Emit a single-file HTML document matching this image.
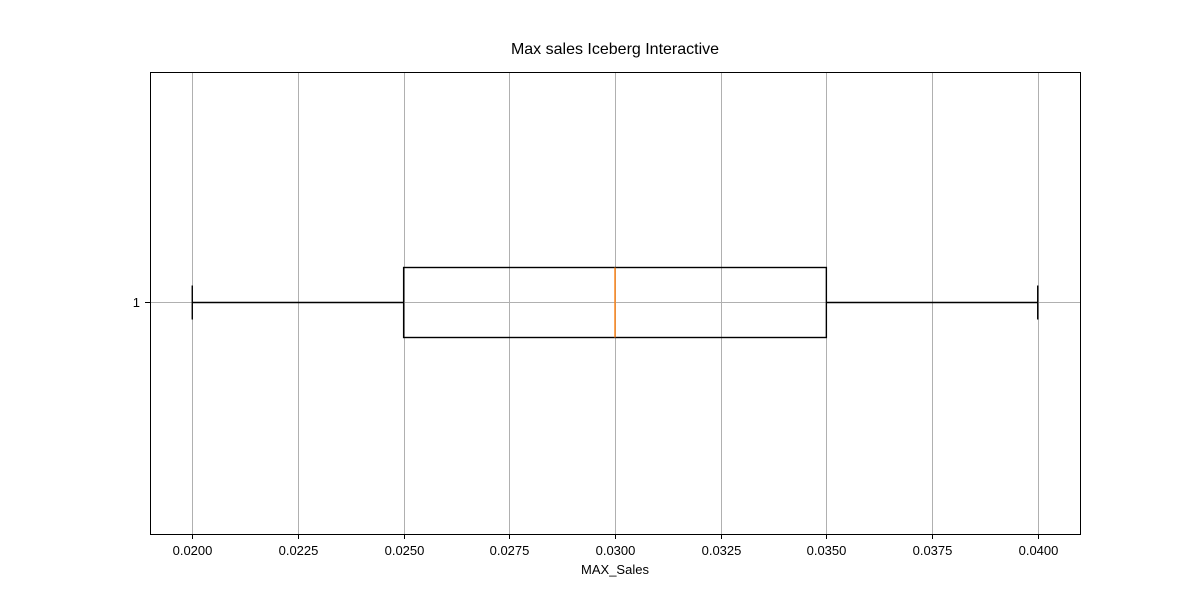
<!DOCTYPE html>
<html><head><meta charset="utf-8"><style>
body{margin:0;background:#fff;}
svg text{font-family:"Liberation Sans","DejaVu Sans",sans-serif;}
</style></head><body>
<svg id="chart" width="1200" height="600" viewBox="0 0 1200 600" xmlns="http://www.w3.org/2000/svg">
<rect width="1200" height="600" fill="#fff"/>
<text x="615" y="54" text-anchor="middle" font-size="16" fill="#000">Max sales Iceberg Interactive</text>
<g id="grid"></g>
<g id="box"></g>
<rect x="150.5" y="72.5" width="930" height="462" fill="none" stroke="#000" stroke-width="1"/>
<g id="xticks"></g>
<text x="615" y="574" text-anchor="middle" font-size="13" fill="#000">MAX_Sales</text>
<line x1="145" y1="302.5" x2="150" y2="302.5" stroke="#000"/>
<text x="140" y="307" text-anchor="end" font-size="13" fill="#000">1</text>
</svg>
<script>
const tickValues=[0.02,0.0225,0.025,0.0275,0.03,0.0325,0.035,0.0375,0.04];
const tickLabels=["0.0200","0.0225","0.0250","0.0275","0.0300","0.0325","0.0350","0.0375","0.0400"];
const whiskerLow=[0.02];
const quartile1=[0.025];
const medianVal=[0.03];
const quartile3=[0.035];
const whiskerHigh=[0.04];
const NS="http://www.w3.org/2000/svg";
const x=v=>150+(v-0.019)/(0.022)*930;
function mk(tag,attrs,parent){const e=document.createElementNS(NS,tag);for(const k in attrs)e.setAttribute(k,attrs[k]);parent.appendChild(e);return e;}
const grid=document.getElementById('grid'),xt=document.getElementById('xticks'),box=document.getElementById('box');
tickValues.forEach((v,i)=>{
 const p=Math.round(x(v))+0.5;
 const g=mk('line',{x1:p,x2:p,y1:72,y2:534,stroke:'#b0b0b0','stroke-width':1},grid);
 
 
 const t=mk('line',{x1:p,x2:p,y1:534,y2:539,stroke:'#000'},xt);
 
 
 const l=mk('text',{x:p,y:555,'text-anchor':'middle','font-size':13,fill:'#000'},xt);
 l.textContent=tickLabels[i];
 
 
});
const hg=mk('line',{x1:150,x2:1080,y1:302.5,y2:302.5,stroke:'#b0b0b0'},grid);


const yc=302.5,bh=35,ch=17,sw=1.4;
const w1=mk('line',{x1:x(whiskerLow[0]),x2:x(quartile1[0]),y1:yc,y2:yc,stroke:'#000','stroke-width':sw},box);


const w2=mk('line',{x1:x(quartile3[0]),x2:x(whiskerHigh[0]),y1:yc,y2:yc,stroke:'#000','stroke-width':sw},box);


const c1=mk('line',{x1:x(whiskerLow[0]),x2:x(whiskerLow[0]),y1:yc-ch,y2:yc+ch,stroke:'#000','stroke-width':sw},box);


const c2=mk('line',{x1:x(whiskerHigh[0]),x2:x(whiskerHigh[0]),y1:yc-ch,y2:yc+ch,stroke:'#000','stroke-width':sw},box);


const r=mk('rect',{x:x(quartile1[0]),y:yc-bh,width:x(quartile3[0])-x(quartile1[0]),height:bh*2,fill:'none',stroke:'#000','stroke-width':sw},box);


const m=mk('line',{x1:x(medianVal[0]),x2:x(medianVal[0]),y1:yc-bh,y2:yc+bh,stroke:'#ff7f0e','stroke-width':sw},box);


</script>
</body></html>
